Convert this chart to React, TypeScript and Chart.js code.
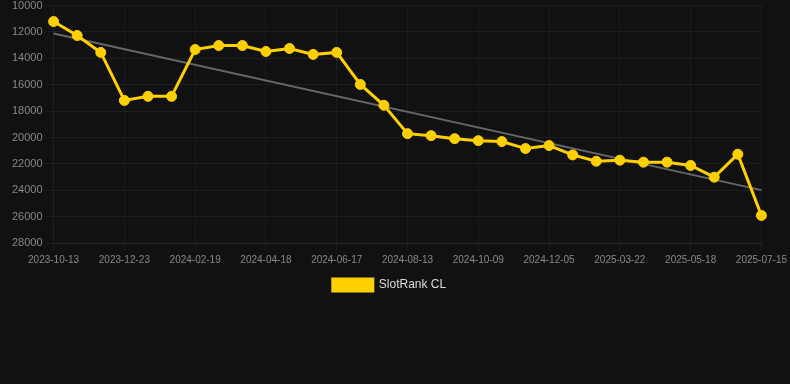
import React, { useEffect, useRef } from "react";
import { Chart, registerables } from "chart.js";

Chart.register(...registerables);

const categories = [
  "2023-10-13", "2023-10-20", "2023-11-30", "2023-12-23", "2024-01-06", "2024-01-27",
  "2024-02-19", "2024-03-02", "2024-03-22", "2024-04-18", "2024-05-01", "2024-05-20",
  "2024-06-17", "2024-07-06", "2024-07-24", "2024-08-13", "2024-08-30", "2024-09-18",
  "2024-10-09", "2024-10-28", "2024-11-16", "2024-12-05", "2025-01-08", "2025-02-15",
  "2025-03-22", "2025-04-10", "2025-04-29", "2025-05-18", "2025-06-06", "2025-06-25",
  "2025-07-15",
];

const rankValues = [
  11210, 12270, 13550, 17190, 16880, 16880, 13330, 13030, 13030, 13480, 13250, 13700,
  13550, 15980, 17560, 19710, 19860, 20090, 20240, 20310, 20840, 20610, 21320, 21800,
  21720, 21870, 21870, 22120, 23010, 21270, 25910,
];

const trendStart = 12120;
const trendEnd = 23990;
const trendValues = categories.map((_, i) =>
  i === 0 ? trendStart : i === categories.length - 1 ? trendEnd : null
);

const yTicks = { min: 10000, max: 28000, step: 2000 };

export default function App() {
  const ref = useRef<HTMLCanvasElement>(null);
  useEffect(() => {
    document.body.style.margin = "0";
    document.body.style.background = "#111111";
    const font = "Arial, 'Liberation Sans', Helvetica, sans-serif";
    const chart = new Chart(ref.current!, {
      type: "line",
      data: {
        labels: categories,
        datasets: [
          {
            label: "SlotRank CL",
            data: rankValues,
            borderColor: "#FFD000",
            backgroundColor: "#FFD000",
            borderWidth: 3,
            pointRadius: 5,
            pointBorderWidth: 1,
            pointBackgroundColor: "#FFD000",
            pointBorderColor: "#FFD000",
            tension: 0,
          },
          {
            label: "trend",
            data: trendValues,
            borderColor: "#666666",
            backgroundColor: "#666666",
            borderWidth: 2,
            pointRadius: 0,
            spanGaps: true,
          },
        ],
      },
      options: {
        animation: false,
        responsive: true,
        maintainAspectRatio: false,
        layout: { padding: { left: 0, right: 11, top: 0, bottom: 4 } },
        plugins: {
          legend: {
            position: "bottom",
            labels: {
              color: "#dddddd",
              font: { family: font, size: 12 },
              boxWidth: 40,
              boxHeight: 12,
              filter: (item) => item.text !== "trend",
            },
          },
          tooltip: { enabled: false },
        },
        scales: {
          x: {
            grid: { color: "#1c1c1c", drawTicks: true, tickColor: "#1c1c1c" },
            border: { color: "#2a2a2a" },
            ticks: {
              color: "#888888",
              font: { family: font, size: 10 },
              maxRotation: 0,
              autoSkip: true,
              maxTicksLimit: 11,
            },
          },
          y: {
            reverse: true,
            min: yTicks.min,
            max: yTicks.max,
            grid: { color: "#1e1e1e" },
            border: { color: "#1e1e1e" },
            afterFit: (scale) => {
              scale.width += 9;
            },
            ticks: {
              stepSize: yTicks.step,
              color: "#888888",
              font: { family: font, size: 11 },
              callback: (v) => String(v),
            },
          },
        },
      },
    });
    return () => chart.destroy();
  }, []);
  return (
    <div style={{ width: 790, height: 309, marginTop: -4, position: "relative" }}>
      <canvas ref={ref} />
    </div>
  );
}
